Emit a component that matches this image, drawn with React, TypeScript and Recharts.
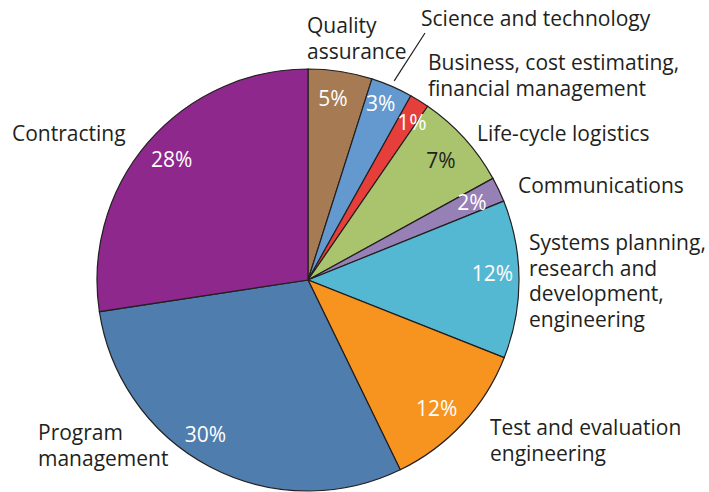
import React from 'react';
import { PieChart, Pie, Cell } from 'recharts';

const categories = [
  'Quality assurance',
  'Science and technology',
  'Business, cost estimating, financial management',
  'Life-cycle logistics',
  'Communications',
  'Systems planning, research and development, engineering',
  'Test and evaluation engineering',
  'Program management',
  'Contracting',
];
const shares = [4.9, 3.2, 1.5, 7.4, 1.9, 12.1, 11.8, 29.8, 27.4];
const percentLabels = ['5%', '3%', '1%', '7%', '2%', '12%', '12%', '30%', '28%'];
const labelLines = [
  ['Quality', 'assurance'],
  ['Science and technology'],
  ['Business, cost estimating,', 'financial management'],
  ['Life-cycle logistics'],
  ['Communications'],
  ['Systems planning,', 'research and', 'development,', 'engineering'],
  ['Test and evaluation', 'engineering'],
  ['Program', 'management'],
  ['Contracting'],
];
const colors = ['#A67A52', '#6399CF', '#E63F3B', '#A9C46D', '#9680B6', '#55B8D2', '#F6941F', '#4F7DAD', '#8E288D'];
const percentColors = ['#fff', '#fff', '#fff', '#231F20', '#fff', '#fff', '#fff', '#fff', '#fff'];

// percent label placement: [radius factor, angle nudge in degrees (clockwise)]
const percentPlacement = [
  [0.87, -1],
  [0.905, -1],
  [0.895, 1.5],
  [0.85, 0],
  [0.86, 0],
  [0.875, -2],
  [0.86, 2],
  [0.875, 6],
  [0.865, 1],
];

// label layout: offsets of the first line (left edge, vertical centre) relative to pie centre
const labelOffsets = [
  [-1, -255],
  [113, -262],
  [120, -218],
  [169, -147],
  [210, -95],
  [221, -38],
  [182, 147],
  [-270, 152],
  [-296, -147],
];

const data = categories.map((name, i) => ({ name, value: shares[i], idx: i }));

const FONT = '"Open Sans", "Noto Sans", sans-serif';
const RAD = Math.PI / 180;

const renderLabel = (props: any) => {
  const { cx, cy, midAngle, outerRadius, payload } = props;
  const i: number = payload && payload.idx !== undefined ? payload.idx : props.index;
  const [rf, da] = percentPlacement[i];
  const r = outerRadius * rf;
  const a = (midAngle - da) * RAD;
  const px = cx + r * Math.cos(a);
  const py = cy - r * Math.sin(a);
  const [ox, oy] = labelOffsets[i];
  const lx = cx + ox;
  const ly = cy + oy;
  let leader: React.ReactNode = null;
  if (i === 1) {
    const ex = cx + (outerRadius + 6) * Math.cos(midAngle * RAD);
    const ey = cy - (outerRadius + 6) * Math.sin(midAngle * RAD);
    leader = <line x1={ex} y1={ey} x2={lx + 4} y2={ly + 15} stroke="#231F20" strokeWidth={1.2} />;
  }
  return (
    <g>
      <text x={px} y={py} textAnchor="middle" dominantBaseline="central" fill={percentColors[i]} fontSize={21} fontFamily={FONT}>
        {percentLabels[i]}
      </text>
      {leader}
      <text x={lx} y={ly} textAnchor="start" dominantBaseline="central" fill="#231F20" fontSize={21} fontFamily={FONT}>
        {labelLines[i].map((t, k) => (
          <tspan key={k} x={lx} dy={k === 0 ? 0 : 25.5}>{t}</tspan>
        ))}
      </text>
    </g>
  );
};

export default function App() {
  return (
    <div style={{ position: 'absolute', left: 0, top: 0, width: 709, height: 492, background: '#fff' }}>
      <PieChart width={709} height={492} margin={{ top: 0, right: 0, bottom: 0, left: 0 }}>
        <Pie
          data={data}
          dataKey="value"
          nameKey="name"
          cx={308}
          cy={280}
          outerRadius={211}
          startAngle={90}
          endAngle={-270}
          stroke="#231F20"
          strokeWidth={1.2}
          label={renderLabel}
          labelLine={false}
          isAnimationActive={false}
        >
          {data.map((d, i) => (
            <Cell key={d.name} fill={colors[i]} />
          ))}
        </Pie>
      </PieChart>
    </div>
  );
}
